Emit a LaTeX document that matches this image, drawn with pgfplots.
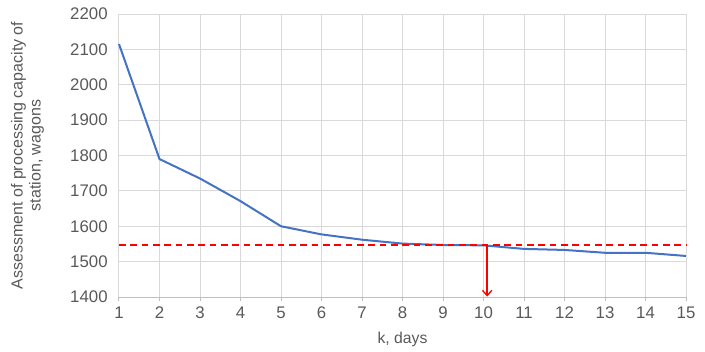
\documentclass[border=0pt]{standalone}
\usepackage{pgfplots}
\pgfplotsset{compat=1.18}
\usepackage{fontspec}
\setmainfont{Liberation Sans}
\definecolor{txt}{HTML}{595959}
\definecolor{gridc}{HTML}{D9D9D9}
\definecolor{axc}{HTML}{BFBFBF}
\definecolor{lineblue}{HTML}{4472C4}
\usetikzlibrary{arrows.meta}
\begin{document}
\begin{tikzpicture}[x=1pt,y=1pt]
\begin{axis}[
  scale only axis,
  width=425.25pt, height=212.25pt,
  at={(0,0)}, anchor=south west,
  xmin=1, xmax=15, ymin=1400, ymax=2200,
  xtick={1,...,15}, ytick={1400,1500,...,2200},
  /pgf/number format/assume math mode=true,
  /pgf/number format/1000 sep={},
  grid=major,
  major grid style={gridc, line width=0.75pt},
  axis x line*=bottom,
  axis y line*=left,
  x axis line style={axc, line width=0.75pt, -},
  y axis line style={draw=none},
  xtick style={axc, line width=0.75pt},
  ytick style={draw=none},
  tick align=outside,
  major tick length=3pt,
  ticklabel style={font=\fontsize{12.6}{14}\selectfont, text=txt},
  xticklabel style={yshift=-1pt},
  yticklabel style={xshift=-2pt},
  xlabel={k, days},
  xlabel style={font=\fontsize{11.8}{14}\selectfont, text=txt, at={(axis description cs:0.5,0)}, anchor=north, yshift=-23pt},
  ylabel={\begin{tabular}{@{}c@{}}Assessment of processing capacity of\\[-0.5pt] station, wagons\end{tabular}},
  ylabel style={font=\fontsize{12}{14}\selectfont, text=txt, at={(axis description cs:-0.1605,0.5)}, anchor=center, rotate=0},
  clip=false,
]
\addplot[lineblue, line width=1.5pt] coordinates {
(1,2115) (2,1790) (3,1735) (4,1671) (5,1600) (6,1577) (7,1562) (8,1551)
(9,1547) (10,1546) (11,1536) (12,1533) (13,1525) (14,1525) (15,1516)
};
\addplot[red, line width=1.5pt, dash pattern=on 5pt off 3.5pt] coordinates {(1,1546) (15,1546)};
\addplot[red, line width=1pt, -{Straight Barb[length=4pt,width=7pt]}] coordinates {(10.09,1546) (10.09,1401)};
\end{axis}
\path[use as bounding box] (-89.25pt,-39pt) rectangle (439.5pt,222.75pt);
\end{tikzpicture}
\end{document}
